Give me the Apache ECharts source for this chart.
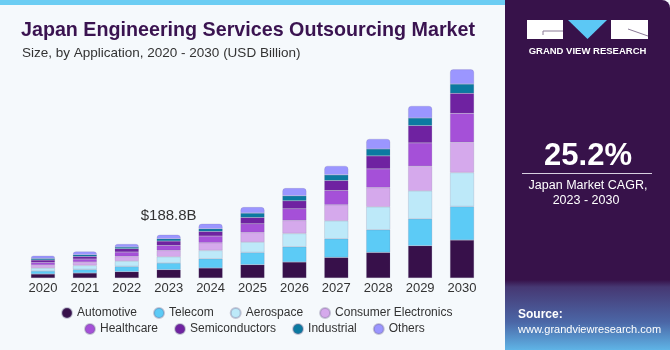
<!DOCTYPE html>
<html>
<head>
<meta charset="utf-8">
<script src="https://cdn.jsdelivr.net/npm/echarts@6/dist/echarts.min.js"></script>
<style>
  html, body { margin: 0; padding: 0; background: #f5f9fc; }
  #chart { width: 670px; height: 350px; }
</style>
</head>
<body>
<div id="chart"></div>
<script>
// Market size by application, USD billion
var years = ['2020', '2021', '2022', '2023', '2024', '2025', '2026', '2027', '2028', '2029', '2030'];

var automotive   = [17.4, 21.8, 27.5, 36.2, 43.6, 58.0, 69.8, 89.8, 111.6, 140.8, 165.7];
var telecom      = [13.1, 15.7, 23.1, 29.2, 40.5, 53.6, 66.7, 81.5, 99.0, 117.7, 146.5];
var aerospace    = [13.1, 17.4, 23.5, 27.5, 36.2, 45.3, 58.0, 78.5, 100.3, 122.1, 148.2];
var consumerElec = [13.1, 14.8, 20.1, 27.5, 33.6, 41.9, 56.7, 69.8, 84.1, 107.7, 132.5];
var healthcare   = [11.3, 13.1, 19.2, 21.8, 29.2, 37.9, 51.0, 62.3, 81.5, 101.6, 126.4];
var semis        = [10.5, 11.3, 14.4, 19.2, 20.1, 27.5, 34.9, 43.6, 56.7, 75.4, 87.2];
var industrial   = [7.0, 7.4, 7.4, 10.0, 11.8, 19.2, 21.8, 24.9, 30.5, 33.6, 40.5];
var others       = [11.8, 14.4, 13.1, 17.4, 21.8, 26.2, 33.6, 39.2, 43.6, 52.3, 64.1];

var seriesNames = ['Automotive', 'Telecom', 'Aerospace', 'Consumer Electronics',
                   'Healthcare', 'Semiconductors', 'Industrial', 'Others'];
var seriesData = [automotive, telecom, aerospace, consumerElec, healthcare, semis, industrial, others];
var colors = ['#37104a', '#5ccbf6', '#bde9f9', '#d5a9ec', '#a550d8', '#6f22a1', '#0b7aa1', '#9b96ff'];

var calloutIndex = 3;
var calloutText = '$188.8B';

var chart = echarts.init(document.getElementById('chart'));

var series = seriesNames.map(function(name, i) {
    var isTop = i === seriesNames.length - 1;
    var data = seriesData[i].map(function(v, j) {
        if (isTop && j === calloutIndex) {
            return {
                value: v,
                label: {
                    show: true,
                    position: 'top',
                    distance: 11,
                    formatter: calloutText,
                    fontSize: 15,
                    color: '#333',
                    fontFamily: 'Liberation Sans'
                }
            };
        }
        return v;
    });
    return {
        name: name,
        type: 'bar',
        stack: 'total',
        barWidth: 24,
        data: data,
        itemStyle: {
            color: colors[i],
            borderColor: 'rgba(110,100,140,0.35)',
            borderWidth: 0.5,
            borderRadius: isTop ? [3, 3, 0, 0] : 0
        }
    };
});

var legendText = { fontSize: 12, color: '#333', fontFamily: 'Liberation Sans' };

var option = {
    backgroundColor: '#f5f9fc',
    animation: false,
    title: [{
        text: 'Japan Engineering Services Outsourcing Market',
        left: 16,
        top: 16,
        textStyle: { fontSize: 19.7, fontWeight: 'bold', color: '#3a1350', fontFamily: 'Liberation Sans' }
    }, {
        text: 'Size, by Application, 2020 - 2030 (USD Billion)',
        left: 17,
        top: 41,
        textStyle: { fontSize: 13.5, fontWeight: 'normal', color: '#333', fontFamily: 'Liberation Sans' }
    }],
    legend: [{
        data: seriesNames.slice(0, 4),
        left: 56,
        top: 302,
        icon: 'circle',
        itemWidth: 10,
        itemHeight: 10,
        itemGap: 16,
        textStyle: legendText
    }, {
        data: seriesNames.slice(4),
        left: 79,
        top: 318,
        icon: 'circle',
        itemWidth: 10,
        itemHeight: 10,
        itemGap: 16,
        textStyle: legendText
    }],
    grid: { left: 22, right: 187, top: 49, bottom: 72 },
    xAxis: {
        type: 'category',
        data: years,
        axisLine: { show: false },
        axisTick: { show: false },
        axisLabel: { fontSize: 13, color: '#333', margin: 4, fontFamily: 'Liberation Sans' }
    },
    yAxis: {
        type: 'value',
        min: 0,
        max: 1000,
        show: false,
        splitLine: { show: false }
    },
    series: series,
    graphic: [
        // top accent strip
        { type: 'rect', shape: { x: 0, y: 0, width: 520, height: 5 }, style: { fill: '#6ccdf3' }, z: 10 },
        // right panel
        {
            type: 'rect',
            shape: { x: 505, y: 0, width: 165, height: 350, r: [0, 8, 0, 0] },
            style: {
                fill: new echarts.graphic.LinearGradient(0, 0, 0, 1, [
                    { offset: 0, color: '#37124a' },
                    { offset: 0.8, color: '#37124a' },
                    { offset: 0.82, color: '#463873' },
                    { offset: 0.92, color: '#4b66a6' },
                    { offset: 1, color: '#5fb4e6' }
                ])
            },
            z: 11
        },
        // logo blocks
        { type: 'rect', shape: { x: 527, y: 20, width: 36, height: 19 }, style: { fill: '#fff' }, z: 12 },
        { type: 'line', shape: { x1: 543, y1: 31, x2: 563, y2: 31 }, style: { stroke: '#8a7a96', lineWidth: 1 }, z: 13 },
        { type: 'line', shape: { x1: 543, y1: 31, x2: 543, y2: 35 }, style: { stroke: '#8a7a96', lineWidth: 1 }, z: 13 },
        { type: 'polygon', shape: { points: [[568, 20], [607, 20], [587.5, 39]] }, style: { fill: '#5cc8f5' }, z: 12 },
        { type: 'rect', shape: { x: 611, y: 20, width: 37, height: 19 }, style: { fill: '#fff' }, z: 12 },
        { type: 'line', shape: { x1: 628, y1: 29, x2: 648, y2: 36 }, style: { stroke: '#8a7a96', lineWidth: 1 }, z: 13 },
        {
            type: 'text', x: 587.5, y: 51, z: 12,
            style: { text: 'GRAND VIEW RESEARCH', fill: '#fff', font: 'bold 9.5px "Liberation Sans"', align: 'center', verticalAlign: 'middle' }
        },
        {
            type: 'text', x: 588, y: 156, z: 12,
            style: { text: '25.2%', fill: '#fff', font: 'bold 31px "Liberation Sans"', align: 'center', verticalAlign: 'middle' }
        },
        { type: 'line', shape: { x1: 522, y1: 173.5, x2: 652, y2: 173.5 }, style: { stroke: '#d8d0e0', lineWidth: 1 }, z: 12 },
        {
            type: 'text', x: 588, y: 186, z: 12,
            style: { text: 'Japan Market CAGR,', fill: '#fff', font: '12.5px "Liberation Sans"', align: 'center', verticalAlign: 'middle' }
        },
        {
            type: 'text', x: 586, y: 201, z: 12,
            style: { text: '2023 - 2030', fill: '#fff', font: '12.5px "Liberation Sans"', align: 'center', verticalAlign: 'middle' }
        },
        {
            type: 'text', x: 518, y: 315, z: 12,
            style: { text: 'Source:', fill: '#fff', font: 'bold 12px "Liberation Sans"', align: 'left', verticalAlign: 'middle' }
        },
        {
            type: 'text', x: 518, y: 330, z: 12,
            style: { text: 'www.grandviewresearch.com', fill: '#fff', font: '11px "Liberation Sans"', align: 'left', verticalAlign: 'middle' }
        }
    ]
};

chart.setOption(option);
</script>
</body>
</html>
